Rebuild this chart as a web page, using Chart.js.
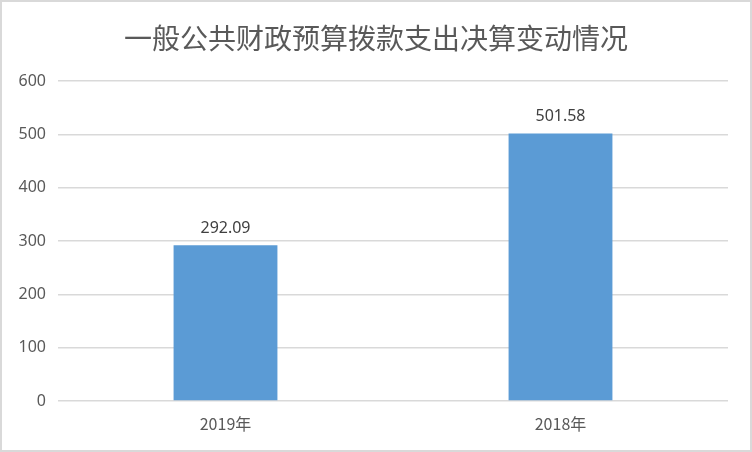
<!DOCTYPE html>
<html><head><meta charset="utf-8">
<script src="https://cdn.jsdelivr.net/npm/chart.js@4"></script>
<style>html,body{margin:0;padding:0;background:#fff}#wrap{width:752px;height:452px;position:relative}</style>
</head><body><div id="wrap"><canvas id="c" width="752" height="452"></canvas></div>
<script>
const titleText = '一般公共财政预算拨款支出决算变动情况';
const categories = ['2019年', '2018年'];
const values = [292.09, 501.58];
const valueLabels = ['292.09', '501.58'];
const yMin = 0, yMax = 600, yStep = 100;

const extras = {
  id: 'extras',
  afterDraw(chart) {
    const ctx = chart.ctx;
    ctx.save();
    ctx.strokeStyle = '#d9d9d9';
    ctx.lineWidth = 2;
    ctx.strokeRect(1, 1, chart.width - 2, chart.height - 2);
    ctx.fillStyle = '#595959';
    ctx.font = '28px "Noto Sans CJK SC"';
    ctx.textAlign = 'center';
    ctx.textBaseline = 'middle';
    ctx.fillText(titleText, 376, 38);
    const meta = chart.getDatasetMeta(0);
    ctx.fillStyle = '#404040';
    ctx.font = '16px "Liberation Sans Narrow", "Noto Sans"';
    ctx.textBaseline = 'alphabetic';
    meta.data.forEach((bar, i) => {
      ctx.fillText(valueLabels[i], bar.x, bar.y - 12);
    });
    ctx.restore();
  }
};

new Chart(document.getElementById('c'), {
  type: 'bar',
  data: {
    labels: categories,
    datasets: [{ data: values, backgroundColor: '#5b9bd5', categoryPercentage: 0.62, barPercentage: 0.5 }]
  },
  options: {
    responsive: false,
    animation: false,
    devicePixelRatio: 1,
    layout: { padding: { top: 81, right: 24, left: 0, bottom: 0 } },
    plugins: { legend: { display: false }, title: { display: false }, tooltip: { enabled: false } },
    scales: {
      x: {
        grid: { display: false, drawTicks: false },
        border: { display: false },
        ticks: { color: '#595959', font: { size: 16, family: '"Liberation Sans Narrow", "Noto Sans CJK SC"' }, padding: 13 },
        afterFit(s) { s.height = 51; }
      },
      y: {
        min: yMin, max: yMax,
        grid: { color: '#d9d9d9', lineWidth: 1.5, drawTicks: false },
        border: { display: false },
        ticks: { stepSize: yStep, color: '#595959', font: { size: 16, family: '"Liberation Sans Narrow", "Noto Sans"' }, padding: 12 },
        afterFit(s) { s.width = 58; }
      }
    }
  },
  plugins: [extras]
});
</script></body></html>
